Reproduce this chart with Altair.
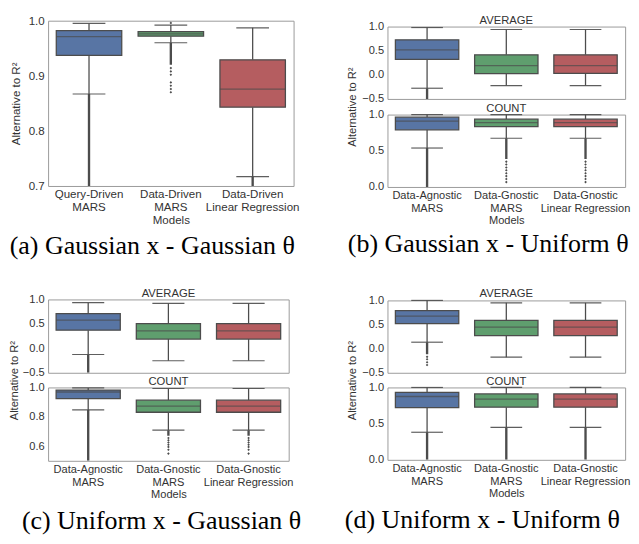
import altair as alt
import pandas as pd

# ---------------- data ----------------
CATS_A = ["Query-Driven|MARS", "Data-Driven|MARS", "Data-Driven|Linear Regression"]
CATS_G = ["Data-Agnostic|MARS", "Data-Gnostic|MARS", "Data-Gnostic|Linear Regression"]
COLORS = ["#5875a4", "#5f9e6e", "#b55d60"]
GRAY = "#4c4c4c"

# (a) Gaussian x - Gaussian theta
a_lo = [0.867, 0.960, 0.717]
a_q1 = [0.937, 0.972, 0.843]
a_med = [0.971, 0.976, 0.876]
a_q3 = [0.982, 0.980, 0.929]
a_hi = [0.995, 0.992, 0.987]
a_dense = [0.700, 0.920, 0.700]
a_sparse_cat = [1, 1, 1, 1, 1, 1, 1, 1]
a_sparse_val = [0.996, 0.914, 0.908, 0.902, 0.888, 0.882, 0.876, 0.870]

# (b) Gaussian x - Uniform theta : AVERAGE / COUNT
b1_lo = [-0.278, -0.223, -0.223]
b1_q1 = [0.322, 0.025, 0.030]
b1_med = [0.515, 0.190, 0.190]
b1_q3 = [0.725, 0.415, 0.415]
b1_hi = [0.980, 0.940, 0.940]
b1_dense = [-0.500, None, None]

b2_lo = [0.538, 0.673, 0.673]
b2_q1 = [0.789, 0.834, 0.834]
b2_med = [0.910, 0.888, 0.888]
b2_q3 = [0.964, 0.937, 0.937]
b2_hi = [1.000, 1.000, 1.000]
b2_dense = [0.000, 0.385, 0.385]
b2_sparse_cat = [1, 1, 1, 1, 1, 1, 1, 1, 2, 2, 2, 2, 2, 2, 2, 2]
b2_sparse_val = [0.35, 0.31, 0.27, 0.23, 0.19, 0.15, 0.11, 0.067,
                 0.35, 0.31, 0.27, 0.23, 0.19, 0.15, 0.11, 0.067]

# (c) Uniform x - Gaussian theta
c1_lo = [-0.126, -0.253, -0.253]
c1_q1 = [0.371, 0.190, 0.190]
c1_med = [0.578, 0.357, 0.357]
c1_q3 = [0.712, 0.505, 0.505]
c1_hi = [0.934, 0.920, 0.920]
c1_dense = [-0.500, None, None]

c2_lo = [0.847, 0.709, 0.709]
c2_q1 = [0.924, 0.831, 0.831]
c2_med = [0.969, 0.873, 0.873]
c2_q3 = [0.982, 0.913, 0.913]
c2_hi = [0.997, 0.993, 0.993]
c2_dense = [0.500, 0.671, 0.671]
c2_sparse_cat = [1, 1, 1, 1, 1, 1, 1, 2, 2, 2, 2, 2, 2, 2]
c2_sparse_val = [0.655, 0.640, 0.625, 0.610, 0.595, 0.575, 0.549,
                 0.655, 0.640, 0.625, 0.610, 0.595, 0.575, 0.549]

# (d) Uniform x - Uniform theta
d1_lo = [0.134, -0.176, -0.176]
d1_q1 = [0.520, 0.270, 0.270]
d1_med = [0.676, 0.445, 0.445]
d1_q3 = [0.789, 0.587, 0.587]
d1_hi = [1.000, 0.950, 0.950]
d1_dense = [-0.115, None, None]
d1_sparse_cat = [0, 0, 0, 0]
d1_sparse_val = [-0.170, -0.220, -0.280, -0.338]

d2_lo = [0.381, 0.448, 0.448]
d2_q1 = [0.720, 0.728, 0.728]
d2_med = [0.875, 0.840, 0.840]
d2_q3 = [0.933, 0.911, 0.911]
d2_hi = [1.000, 1.000, 1.000]
d2_dense = [0.000, 0.000, 0.000]

HEADINGS = ["AVERAGE", "COUNT"]
CAPTIONS = ["(a) Gaussian x - Gaussian θ", "(b) Gaussian x - Uniform θ",
            "(c) Uniform x - Gaussian θ", "(d) Uniform x - Uniform θ"]
YTITLE = "Alternative to R²"
SANS = "Liberation Sans"
SERIF = "Liberation Serif"


def boxes(cats, lo, q1, med, q3, hi, dense, sparse_cat=None, sparse_val=None,
          domain=(0, 1), ticks=(0, 0.5, 1), w=243, h=74, fs=11.3,
          xlabels=True, ytitle=True, title_x=None, title_y=None):
    df = pd.DataFrame({"cat": cats, "lo": lo, "q1": q1, "med": med,
                       "q3": q3, "hi": hi, "dense": dense, "color": COLORS})
    band = w / len(cats)
    if xlabels:
        xaxis = alt.Axis(labelExpr="split(datum.label, '|')", labelAngle=0,
                         labelFontSize=fs, labelLineHeight=fs * 1.15,
                         labelPadding=3, title="Models", titleFontSize=fs,
                         titleFontWeight="normal", titlePadding=1)
    else:
        xaxis = None
    x = alt.X("cat:N", sort=cats,
              scale=alt.Scale(domain=cats, paddingInner=0, paddingOuter=0),
              axis=xaxis)
    ykw = dict(values=list(ticks), format=".1f", labelFontSize=fs, labelPadding=4,
               title=YTITLE if ytitle else None, titleFontSize=fs,
               titleFontWeight="normal")
    if title_x is not None:
        ykw.update(titleX=title_x, titleY=title_y, titleBaseline="middle")
    else:
        ykw.update(titlePadding=7)
    yaxis = alt.Axis(**ykw)
    ysc = alt.Scale(domain=list(domain), nice=False, zero=False)

    def Y(f):
        return alt.Y(f + ":Q", scale=ysc, axis=yaxis, title=YTITLE if ytitle else None)

    base = alt.Chart(df)
    layers = []
    layers.append(base.transform_filter("isValid(datum.dense)")
                  .mark_rule(color=GRAY, strokeWidth=2.4, clip=True)
                  .encode(x=x, y=Y("dense"), y2="lo:Q"))
    if sparse_cat is not None:
        sp = pd.DataFrame({"cat": [cats[i] for i in sparse_cat], "v": sparse_val})
        layers.append(alt.Chart(sp).mark_point(shape="diamond", filled=True,
                                               size=7, color=GRAY, opacity=1)
                      .encode(x=x, y=Y("v")))
    layers.append(base.mark_rule(color=GRAY, strokeWidth=1.3)
                  .encode(x=x, y=Y("lo"), y2="q1:Q"))
    layers.append(base.mark_rule(color=GRAY, strokeWidth=1.3)
                  .encode(x=x, y=Y("q3"), y2="hi:Q"))
    layers.append(base.mark_tick(color=GRAY, thickness=1.2, size=band * 0.4, opacity=0.9)
                  .encode(x=x, y=Y("lo")))
    layers.append(base.mark_tick(color=GRAY, thickness=1.2, size=band * 0.4, opacity=0.9)
                  .encode(x=x, y=Y("hi")))
    layers.append(base.mark_bar(width={"band": 0.8}, stroke=GRAY, strokeWidth=1.3)
                  .encode(x=x, y=Y("q1"), y2="q3:Q",
                          color=alt.Color("color:N", scale=None)))
    layers.append(base.mark_tick(color=GRAY, thickness=1.3, size=band * 0.8)
                  .encode(x=x, y=Y("med")))
    return alt.layer(*layers).properties(width=w, height=h)


def strip(text, w, h, tx, ty, font, size, color, baseline):
    """A frameless strip that carries one line of text (heading or caption)."""
    df = pd.DataFrame({"t": [text]})
    return (alt.Chart(df)
            .mark_text(font=font, fontSize=size, color=color, baseline=baseline,
                       align="center")
            .encode(text="t:N", x=alt.value(tx), y=alt.value(ty))
            .properties(width=w, height=h,
                        view=alt.ViewBackground(stroke="transparent")))


def heading(i, w, h):
    return strip(HEADINGS[i], w, h, w / 2, h - 1, SANS, 11.5, "#333333", "bottom")


def caption(i, w, h, cx, cy):
    return strip(CAPTIONS[i], w, h, cx, cy, SERIF, 26.5, "#000000", "middle")


# panel (a)
pa = boxes(CATS_A, a_lo, a_q1, a_med, a_q3, a_hi, a_dense, a_sparse_cat, a_sparse_val,
           domain=(0.7, 1.0), ticks=(0.7, 0.8, 0.9, 1.0), w=251, h=169, fs=11.8)

# panel (b)
pb1 = boxes(CATS_G, b1_lo, b1_q1, b1_med, b1_q3, b1_hi, b1_dense,
            domain=(-0.5, 1.0), ticks=(-0.5, 0.0, 0.5, 1.0), w=243, h=74,
            xlabels=False, title_x=-36, title_y=82)
pb2 = boxes(CATS_G, b2_lo, b2_q1, b2_med, b2_q3, b2_hi, b2_dense, b2_sparse_cat, b2_sparse_val,
            domain=(0.0, 1.0), ticks=(0.0, 0.5, 1.0), w=243, h=74, ytitle=False)

# panel (c)
pc1 = boxes(CATS_G, c1_lo, c1_q1, c1_med, c1_q3, c1_hi, c1_dense,
            domain=(-0.5, 1.0), ticks=(-0.5, 0.0, 0.5, 1.0), w=246, h=75,
            xlabels=False, title_x=-34, title_y=82.5)
pc2 = boxes(CATS_G, c2_lo, c2_q1, c2_med, c2_q3, c2_hi, c2_dense, c2_sparse_cat, c2_sparse_val,
            domain=(0.5, 1.0), ticks=(0.6, 0.8, 1.0), w=246, h=75, ytitle=False)

# panel (d)
pd1 = boxes(CATS_G, d1_lo, d1_q1, d1_med, d1_q3, d1_hi, d1_dense, d1_sparse_cat, d1_sparse_val,
            domain=(-0.5, 1.0), ticks=(-0.5, 0.0, 0.5, 1.0), w=243, h=74,
            xlabels=False, title_x=-36, title_y=81.5)
pd2 = boxes(CATS_G, d2_lo, d2_q1, d2_med, d2_q3, d2_hi, d2_dense,
            domain=(0.0, 1.0), ticks=(0.0, 0.5, 1.0), w=243, h=74, ytitle=False)

col1 = alt.vconcat(
    pa, caption(0, 251, 110, 106.5, 62),
    heading(0, 246, 6), pc1, heading(1, 246, 15), pc2,
    caption(2, 246, 75, 116, 61.5),
    spacing=0, bounds="flush")

col2 = alt.vconcat(
    heading(0, 243, 6), pb1, heading(1, 243, 16), pb2,
    caption(1, 243, 110, 103, 58.5),
    heading(0, 243, 6), pd1, heading(1, 243, 15), pd2,
    caption(3, 243, 75, 97, 62),
    spacing=0, bounds="flush")

chart = (alt.hconcat(col1, col2, spacing=42)
         .properties(padding=0)
         .configure_view(stroke="#9a9a9a", strokeWidth=1)
         .configure_axis(labelFont=SANS, titleFont=SANS, labelColor="#333333",
                         titleColor="#333333", grid=False, ticks=False, domain=False))

chart.save("out.html", embed_options={"renderer": "svg", "actions": False})
